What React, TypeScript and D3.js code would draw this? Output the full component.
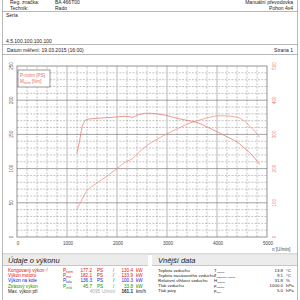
import React from "react";
import * as d3 from "d3";

const rpmPower = [1200, 1300, 1400, 1500, 1600, 1800, 2000, 2200, 2300, 2400, 2600, 2800, 3000, 3200, 3400, 3600, 3800, 4000, 4100, 4200, 4400, 4500, 4600, 4700, 4800, 4850];
const powerPS = [41, 55, 68, 74, 79, 89, 100, 111, 114, 121, 134, 143, 151, 158, 165, 170, 174, 177, 177.2, 177, 175, 172, 166, 159, 151, 146];
const rpmTorque = [1200, 1250, 1300, 1350, 1400, 1600, 1800, 2000, 2200, 2300, 2400, 2600, 2800, 3000, 3200, 3400, 3600, 3800, 4000, 4200, 4400, 4600, 4700, 4800, 4850];
const torqueNm = [245, 280, 320, 338, 344, 347, 349, 351, 353, 350, 356, 362, 360, 355, 347, 341, 335, 322, 308, 293, 278, 253, 240, 222, 212];

const xTicks = [0, 1000, 2000, 3000, 4000, 5000];
const leftTicks = [0, 50, 100, 150, 200, 250];
const rightTicks = [0, 100, 200, 300, 400, 500];

const perfLabels = ["Korigovaný výkon ¹⁾", "Výkon motoru", "Výkon na kole", "Ztrátový výkon"];
const perfSubs = ["norm", "mot", "kola", "ztrát"];
const perfPS = ["177.2", "182.1", "136.3", "45.7"];
const perfKW = ["130.4", "133.9", "100.3", "33.8"];
const perfColors = ["#e01010", "#e01010", "#1020e0", "#109010"];

const extLabels = ["Teplota vzduchu", "Teplota nasávaného vzduchu", "Relativní vlhkost vzduchu", "Tlak vzduchu", "Tlak páry"];
const extSymbols = ["T", "T", "H", "p", "p"];
const extSubs = ["vzduch", "nasávaný vzduch", "vzduch", "vzduch", "páry"];
const extValues = ["13.8", "9.1", "31.8", "1000.0", "5.0"];
const extUnits = ["°C", "°C", "%", "hPa", "hPa"];

const FONT = "'Liberation Sans', Arial, sans-serif";

export default function App() {
  const x = d3.scaleLinear().domain([0, 5000]).range([17, 267]);
  const yL = d3.scaleLinear().domain([0, 250]).range([237, 66]);
  const yR = d3.scaleLinear().domain([0, 500]).range([237, 66]);

  const powerLine = d3.line<number>().x((_, i) => x(rpmPower[i])).y((d) => yL(d)).curve(d3.curveMonotoneX);
  const torqueLine = d3.line<number>().x((_, i) => x(rpmTorque[i])).y((d) => yR(d)).curve(d3.curveMonotoneX);

  const minorX = d3.range(200, 5000, 200).filter((v) => v % 1000 !== 0);
  const majorX = [1000, 2000, 3000, 4000];
  const minorY = d3.range(10, 250, 10).filter((v) => v % 50 !== 0);
  const majorY = [50, 100, 150, 200];

  const rowsY = [272, 277, 282, 287.5, 293];
  const extRowsY = [272, 277, 282, 287, 292];

  return (
    <svg width={300} height={300} style={{ position: "absolute", left: 0, top: 0, background: "#fff" }} fontFamily={FONT}>
      <rect x={0} y={0} width={300} height={300} fill="#fff" />
      {/* page frame */}
      <line x1={2.5} y1={0} x2={2.5} y2={300} stroke="#888" strokeWidth={0.6} />
      <line x1={297.5} y1={0} x2={297.5} y2={300} stroke="#888" strokeWidth={0.6} />
      <line x1={2.5} y1={11.5} x2={297.5} y2={11.5} stroke="#888" strokeWidth={0.6} />
      <line x1={2.5} y1={44.5} x2={297.5} y2={44.5} stroke="#888" strokeWidth={0.6} />
      <line x1={2.5} y1={54.5} x2={297.5} y2={54.5} stroke="#888" strokeWidth={0.6} />
      <line x1={2.5} y1={254} x2={297.5} y2={254} stroke="#888" strokeWidth={0.6} />

      {/* header */}
      <g fontSize={5} fill="#222">
        <text x={10} y={3.5}>Reg. značka:</text>
        <text x={55} y={3.5}>BA 466T00</text>
        <text x={293} y={3.5} textAnchor="end">Manuální převodovka</text>
        <text x={10} y={10}>Technik:</text>
        <text x={55} y={10}>Rado</text>
        <text x={293} y={10} textAnchor="end">Pohon 4x4</text>
        <text x={6} y={17}>Seria</text>
        <text x={6} y={42.5}>4.5.100.100.100.100</text>
        <text x={7} y={52}>Datum měření: 19.03.2015 (16:00)</text>
        <text x={293} y={52} textAnchor="end">Strana 1</text>
      </g>

      {/* grid */}
      <g>
        {minorY.map((v) => (
          <line key={"my" + v} x1={x(0)} x2={x(5000)} y1={yL(v)} y2={yL(v)} stroke="#888" strokeWidth={0.5} strokeDasharray="2,1.3" />
        ))}
        {minorX.map((v) => (
          <line key={"mx" + v} x1={x(v)} x2={x(v)} y1={yL(0)} y2={yL(250)} stroke="#888" strokeWidth={0.5} strokeDasharray="2,1.3" />
        ))}
        {majorX.map((v) => (
          <line key={"Mx" + v} x1={x(v)} x2={x(v)} y1={yL(0)} y2={yL(250)} stroke="#cccccc" strokeWidth={1.4} />
        ))}
        {majorY.map((v) => (
          <line key={"My" + v} x1={x(0)} x2={x(5000)} y1={yL(v)} y2={yL(v)} stroke="#666" strokeWidth={0.6} />
        ))}
        <rect x={x(0)} y={yL(250)} width={x(5000) - x(0)} height={yL(0) - yL(250)} fill="none" stroke="#666" strokeWidth={0.7} />
      </g>

      {/* curves */}
      <path d={powerLine(powerPS) || ""} fill="none" stroke="#f0907e" strokeWidth={0.75} />
      <path d={torqueLine(torqueNm) || ""} fill="none" stroke="#e8766c" strokeWidth={0.75} />

      {/* legend */}
      <rect x={18} y={70} width={32} height={17} fill="#fff" stroke="#555" strokeWidth={0.6} />
      <text x={20} y={77} fontSize={4.6} fill="#e86a5a">P-norm [PS]</text>
      <text x={20} y={83} fontSize={4.6} fill="#e86a5a">
        M<tspan fontSize={3} dy={1}>norm</tspan><tspan dy={-1}> [Nm]</tspan>
      </text>

      {/* axes labels */}
      {leftTicks.map((v) => (
        <text key={"lt" + v} transform={`translate(12.5,${yL(v)}) rotate(-90)`} fontSize={4.6} fill="#555" textAnchor="middle">{v}</text>
      ))}
      {rightTicks.map((v) => (
        <text key={"rt" + v} transform={`translate(276,${yR(v)}) rotate(-90)`} fontSize={4.6} fill="#ee8070" textAnchor="middle">{v}</text>
      ))}
      {xTicks.map((v) => (
        <text key={"xt" + v} x={x(v) + 1} y={245} fontSize={4.6} fill="#444" textAnchor="middle">{v}</text>
      ))}
      <text x={272} y={251} fontSize={4.6} fill="#444">n [U/min]</text>

      {/* bottom headings */}
      <rect x={3} y={254.5} width={145} height={11} fill="#ececec" />
      <rect x={152} y={254.5} width={145} height={11} fill="#ececec" />
      <line x1={3} y1={265.5} x2={148} y2={265.5} stroke="#999" strokeWidth={0.5} />
      <line x1={152} y1={265.5} x2={297} y2={265.5} stroke="#999" strokeWidth={0.5} />
      <text x={8} y={262.5} fontSize={7.5} fontStyle="italic" fill="#222">Údaje o výkonu</text>
      <text x={158} y={262.5} fontSize={7.5} fontStyle="italic" fill="#222">Vnější data</text>

      {/* performance table */}
      <g fontSize={4.6}>
        {perfLabels.map((lab, i) => (
          <g key={"p" + i} fill={perfColors[i]}>
            <text x={8} y={rowsY[i]}>{lab}</text>
            <text x={63} y={rowsY[i]}>P<tspan fontSize={3} dy={1}>{perfSubs[i]}</tspan></text>
            <text x={92} y={rowsY[i]} textAnchor="end">{perfPS[i]}</text>
            <text x={97} y={rowsY[i]}>PS</text>
            <text x={113} y={rowsY[i]}>/</text>
            <text x={133} y={rowsY[i]} textAnchor="end">{perfKW[i]}</text>
            <text x={136} y={rowsY[i]}>kW</text>
          </g>
        ))}
        <text x={8} y={rowsY[4]} fill="#222">Max. výkon při</text>
        <text x={100} y={rowsY[4]} fill="#aaa" textAnchor="end">4095</text>
        <text x={102} y={rowsY[4]} fill="#aaa">U/min/</text>
        <text x={133} y={rowsY[4]} fill="#222" textAnchor="end" fontWeight="bold">161.1</text>
        <text x={136} y={rowsY[4]} fill="#222">km/h</text>
      </g>

      {/* external data table */}
      <g fontSize={4.4} fill="#222">
        {extLabels.map((lab, i) => (
          <g key={"e" + i}>
            <text x={158} y={extRowsY[i]}>{lab}</text>
            <text x={214} y={extRowsY[i]}>{extSymbols[i]}<tspan fontSize={2.4} dy={1}>{extSubs[i]}</tspan></text>
            <text x={283} y={extRowsY[i]} textAnchor="end">{extValues[i]}</text>
            <text x={286} y={extRowsY[i]}>{extUnits[i]}</text>
          </g>
        ))}
      </g>
    </svg>
  );
}
